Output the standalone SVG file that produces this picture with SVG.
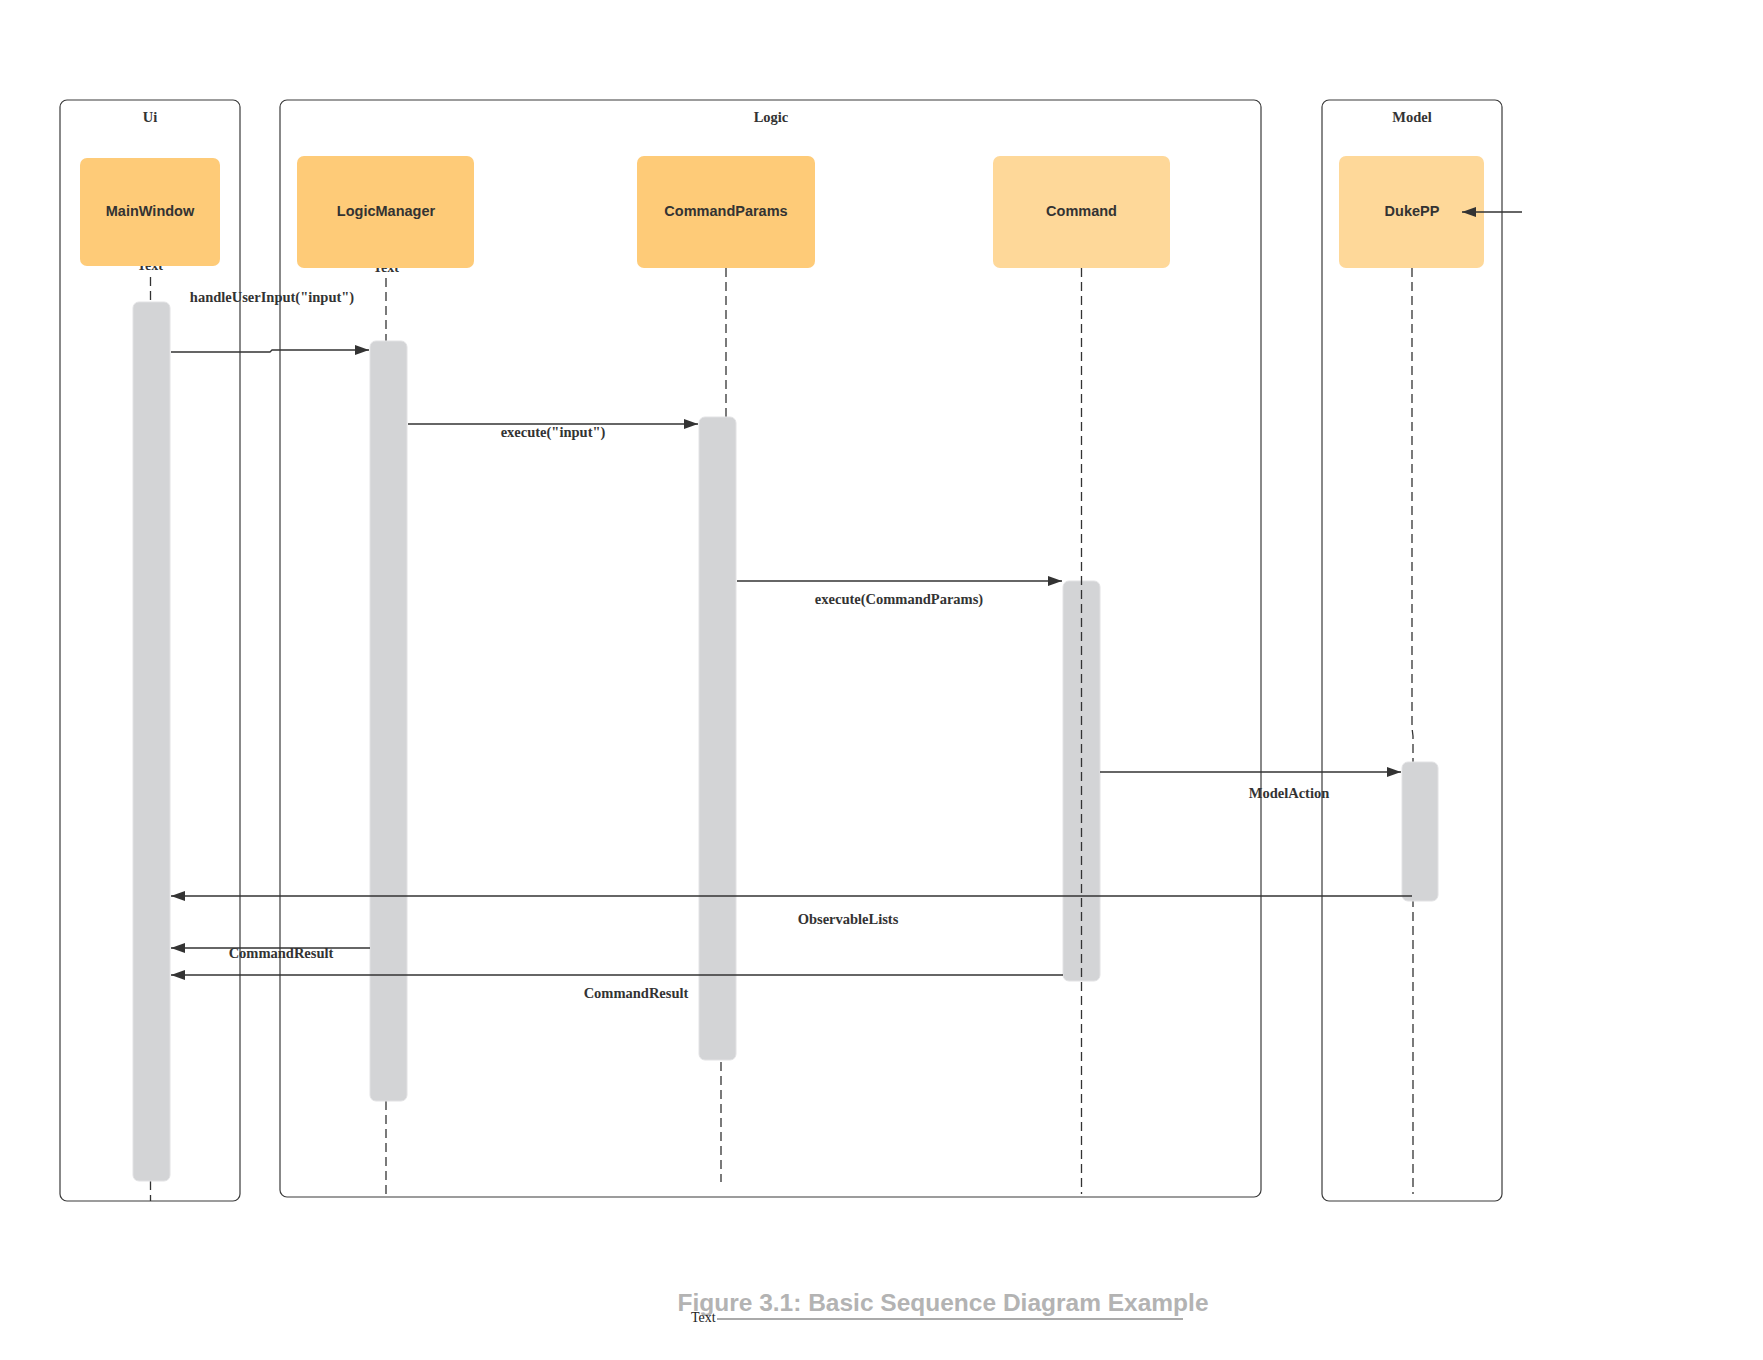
<svg xmlns="http://www.w3.org/2000/svg" width="1763" height="1360" viewBox="0 0 1763 1360">
<style>
.frame{fill:none;stroke:#3a3a3a;stroke-width:1.2}
.ftitle{font-family:"Liberation Serif",serif;font-weight:bold;font-size:14.5px;fill:#333;text-anchor:middle}
.node{stroke:none}
.n1{fill:#fecb78}
.n2{fill:#fed899}
.ntext{font-family:"Liberation Sans",Arial,sans-serif;font-weight:bold;font-size:14.5px;fill:#333;text-anchor:middle}
.life{fill:none;stroke:#333;stroke-width:1.3;stroke-dasharray:9 5}
.bar{fill:#d3d4d6;stroke:#e2e2e4;stroke-width:1}
.msg{fill:none;stroke:#333;stroke-width:1.3}
.mlabel{font-family:"Liberation Serif",serif;font-weight:bold;font-size:14.5px;fill:#333;text-anchor:middle}
.ghost{font-family:"Liberation Serif",serif;font-weight:bold;font-size:14px;fill:#333;text-anchor:middle}
</style>
<defs>
<marker id="arr" viewBox="0 0 14 10" refX="14" refY="5" markerWidth="14" markerHeight="10" markerUnits="userSpaceOnUse" orient="auto">
<path d="M0,0 L14,5 L0,10 z" fill="#333"/>
</marker>
</defs>
<rect width="1763" height="1360" fill="#fff"/>

<g id="frame-ui">
<rect class="frame" x="60" y="100" width="180" height="1101" rx="7"/>
<text class="ftitle" x="150" y="122">Ui</text>
</g>
<g id="frame-logic">
<rect class="frame" x="280" y="100" width="981" height="1097" rx="7"/>
<text class="ftitle" x="771" y="122">Logic</text>
</g>
<g id="frame-model">
<rect class="frame" x="1322" y="100" width="180" height="1101" rx="7"/>
<text class="ftitle" x="1412" y="122">Model</text>
</g>

<g id="lifelines">
<text class="ghost" x="150" y="270">Text</text>
<text class="ghost" x="386" y="272">Text</text>
<path class="life" d="M150.5,277 V302"/>
<path class="life" d="M150.5,1181 V1201"/>
<path class="life" d="M386,278 V341"/>
<path class="life" d="M386,1101 V1199"/>
<path class="life" d="M726,268 V417"/>
<path class="life" d="M721,1062 V1182"/>
<path class="life" d="M1412,268 V728 L1413,736 V1194"/>
</g>

<g id="node-mainwindow">
<rect class="node n1" x="80" y="158" width="140" height="108" rx="7"/>
<text class="ntext" x="150" y="215.5">MainWindow</text>
</g>
<g id="node-logicmanager">
<rect class="node n1" x="297" y="156" width="177" height="112" rx="7"/>
<text class="ntext" x="386" y="215.5">LogicManager</text>
</g>
<g id="node-commandparams">
<rect class="node n1" x="637" y="156" width="178" height="112" rx="7"/>
<text class="ntext" x="726" y="215.5">CommandParams</text>
</g>
<g id="node-command">
<rect class="node n2" x="993" y="156" width="177" height="112" rx="7"/>
<text class="ntext" x="1081.5" y="215.5">Command</text>
</g>
<g id="node-dukepp">
<rect class="node n2" x="1339" y="156" width="145" height="112" rx="7"/>
<text class="ntext" x="1412" y="215.5">DukePP</text>
</g>

<g id="activations">
<rect class="bar" x="133" y="302" width="37" height="879" rx="6"/>
<rect class="bar" x="370" y="341" width="37" height="760" rx="6"/>
<rect class="bar" x="699" y="417" width="37" height="643" rx="6"/>
<rect class="bar" x="1063" y="581" width="37" height="400" rx="6"/>
<rect class="bar" x="1402" y="762" width="36" height="139" rx="6"/>
</g>
<path class="life" d="M1081.5,268 V1194"/>

<g id="connectors">
<path class="msg" d="M171,352 H270 L272,350 H369" marker-end="url(#arr)"/>
<text class="mlabel" x="272" y="302">handleUserInput("input")</text>
<path class="msg" d="M408,424 H698" marker-end="url(#arr)"/>
<text class="mlabel" x="553" y="437">execute("input")</text>
<path class="msg" d="M737,581 H1062" marker-end="url(#arr)"/>
<text class="mlabel" x="899" y="604">execute(CommandParams)</text>
<path class="msg" d="M1100,772 H1401" marker-end="url(#arr)"/>
<text class="mlabel" x="1289" y="798">ModelAction</text>
<path class="msg" d="M1412,896 H171" marker-end="url(#arr)"/>
<text class="mlabel" x="848" y="924">ObservableLists</text>
<path class="msg" d="M370,948 H171" marker-end="url(#arr)"/>
<text class="mlabel" x="281" y="958">CommandResult</text>
<path class="msg" d="M1063,975 H171" marker-end="url(#arr)"/>
<text class="mlabel" x="636" y="998">CommandResult</text>
<path class="msg" d="M1522,212 H1462" marker-end="url(#arr)"/>
</g>

<g id="caption">
<text x="943" y="1311" font-family="'Liberation Sans',Arial,sans-serif" font-weight="bold" font-size="24.5" fill="#b3b3b3" text-anchor="middle">Figure 3.1: Basic Sequence Diagram Example</text>
<line x1="717" y1="1319" x2="1183" y2="1319" stroke="#aaa" stroke-width="2"/>
<text x="691" y="1322" font-family="'Liberation Serif',serif" font-size="14" fill="#222">Text</text>
</g>
</svg>
